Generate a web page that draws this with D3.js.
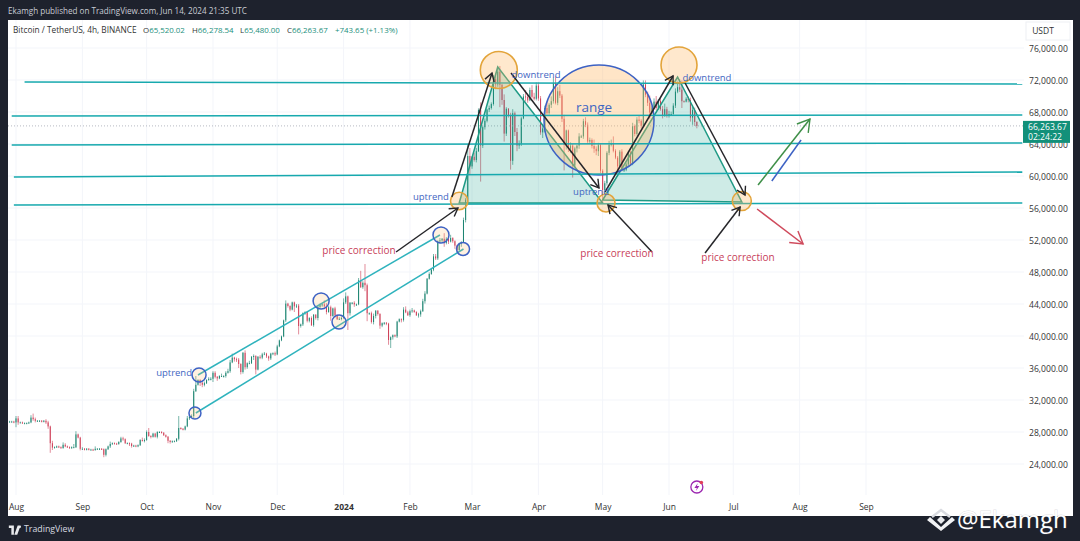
<!DOCTYPE html>
<html>
<head>
<meta charset="utf-8">
<script src="https://cdn.jsdelivr.net/npm/d3@7"></script>
<style>
  html, body { margin: 0; padding: 0; background: #1e222d; }
  svg { display: block; }
  text { font-family: "Open Sans", sans-serif; }
</style>
</head>
<body>
<svg id="chart" width="1080" height="541"></svg>
<script>
// daily candles, first one is 2023-07-28 (thousands of USDT)
const firstDay = "2023-07-28";
const closes = [
  29.3, 29.3, 29.3, 29.2,
  29.7, 29.2, 29.2, 29.1, 29.1, 29.1, 29.2, 29.8, 29.6, 29.4, 29.4, 29.4, 29.3, 29.4, 29.2, 28.7, 26.6, 26.05, 26.1, 26.2, 26.1, 26.0, 26.4, 26.2, 26.1, 26.0, 26.1, 26.1, 27.7, 27.3, 25.9,
  25.9, 25.8, 25.9, 25.8, 25.8, 25.75, 25.9, 25.9, 25.9, 25.85, 25.15, 25.85, 26.2, 26.5, 26.6, 26.55, 26.5, 26.75, 27.2, 27.1, 26.6, 26.6, 26.55, 26.25, 26.3, 26.2, 26.35, 27.0, 26.9, 27.0,
  28.0, 27.5, 27.4, 27.8, 27.4, 28.0, 28.0, 27.9, 27.6, 27.4, 26.9, 26.75, 26.85, 26.85, 27.15, 28.5, 28.4, 28.3, 28.7, 29.7, 29.9, 30.0, 33.1, 33.9, 34.5, 34.15, 33.9, 34.1, 34.5, 34.65, 34.65,
  35.4, 34.9, 34.7, 35.0, 35.0, 35.0, 35.4, 35.6, 36.7, 37.3, 37.1, 37.05, 36.5, 35.5, 37.9, 36.1, 36.6, 36.6, 37.4, 37.5, 35.8, 37.4, 37.3, 37.7, 37.8, 37.45, 37.2, 37.8, 37.85, 37.7,
  38.7, 39.45, 39.95, 41.95, 44.05, 43.75, 43.3, 44.2, 43.7, 43.8, 41.25, 41.45, 42.85, 43.0, 41.9, 42.25, 41.35, 42.65, 42.25, 43.65, 43.85, 43.95, 43.7, 43.0, 43.6, 42.5, 43.45, 42.6, 42.1, 42.15, 42.25,
  44.2, 44.95, 42.85, 44.15, 44.15, 43.95, 43.95, 46.95, 46.1, 46.65, 46.35, 42.85, 42.85, 41.75, 42.5, 43.15, 42.75, 41.3, 41.6, 41.65, 41.55, 39.5, 39.85, 40.1, 39.95, 41.8, 42.1, 42.0, 43.3, 42.95, 42.6,
  43.1, 43.2, 43.0, 42.6, 42.7, 43.1, 44.35, 45.3, 47.15, 47.75, 48.3, 49.95, 49.7, 51.85, 51.95, 52.15, 51.65, 52.15, 51.8, 52.25, 51.85, 51.3, 50.75, 51.55, 51.75, 54.5, 57.05, 62.5, 61.2,
  62.4, 62.0, 63.1, 68.25, 63.8, 66.1, 66.9, 68.3, 68.5, 69.0, 72.1, 71.45, 73.05, 71.4, 69.5, 65.3, 68.4, 67.6, 61.9, 67.85, 65.5, 63.8, 64.05, 67.2, 69.95, 69.9, 69.45, 70.75, 69.9, 69.65, 71.3,
  69.7, 65.45, 65.95, 68.5, 67.85, 68.9, 69.35, 71.6, 69.15, 70.6, 70.05, 67.15, 63.9, 65.7, 63.4, 63.8, 61.3, 63.45, 63.8, 64.95, 64.95, 66.85, 66.4, 64.3, 64.5, 63.75, 63.4, 63.1, 63.85, 60.65,
  58.25, 59.1, 62.9, 63.9, 64.05, 63.15, 62.3, 61.2, 63.05, 60.8, 60.8, 61.45, 62.95, 61.55, 66.25, 65.25, 67.05, 66.9, 66.25, 71.45, 70.15, 69.15, 67.95, 68.55, 69.3, 68.5, 69.4, 68.35, 67.6, 68.35, 67.5,
  67.75, 67.75, 68.8, 70.55, 71.1, 70.8, 69.35, 69.3, 69.65, 69.5, 67.3, 68.25, 66.75, 66.26
];
const upperWicks = [
  .1, .1, .1, .1,
  .3, .3, .1, .1, .1, .1, .1, .3, .5, .2, .1, .1, .1, .1, .2, .2, .1, .3, .1, .1, .1, .1, .3, .2, .1, .1, .1, .4, .4, .1, .1,
  .2, .1, .1, .1, .1, .1, .3, .1, .1, .1, .1, .1, .1, .3, .1, .1, .1, .1, .2, .2, .1, .1, .1, .1, .1, .1, .1, .1, .3, .2,
  .2, .5, .1, .1, .1, .1, .1, .1, .1, .1, .1, .1, .1, .1, .1, 1.5, .1, .1, .1, .3, .3, .2, .3, 1.1, .1, .1, .2, .2, .1, .2, .2,
  .2, .2, .1, .1, .3, .1, .2, .3, .3, .5, .1, .2, .2, .1, .1, .3, .1, .3, .1, .2, .1, .1, .2, .2, .2, .1, .1, .1, .1, .2,
  .2, .1, .1, .1, .4, .1, .1, .1, .1, .2, .2, .1, .1, .1, .1, .1, .2, .1, .1, .1, .2, .2, .5, .4, .2, .2, .1, .2, .1, .2, .2,
  .5, .5, .1, .1, .1, .2, .1, .3, 1.2, .2, 2.35, .2, .1, .2, .3, .1, .1, .1, .1, .1, .1, .1, .1, .1, .1, .1, .1, .1, .3, .4, .2,
  .2, .3, .1, .1, .2, .2, .3, .3, .1, .2, .1, .3, .3, .1, .3, .1, .7, .2, .2, .4, .1, .1, .1, .1, .1, .3, .2, 1.5, 1.0,
  .1, .5, .4, .2, .95, .2, .3, .1, .3, .2, .5, .7, .6, .7, .1, .7, .2, .1, .3, .5, .2, .5, .4, .2, .3, .8, .4, .3, .6, .5, .4,
  .4, .3, .5, .3, .8, .2, .6, .7, .9, .5, .8, .2, .5, .1, .1, .4, .2, .2, .1, .4, .2, .3, .5, .3, .3, .2, .8, .3, .3, .2,
  .2, .3, .2, .5, .5, .9, .2, .2, .2, .3, .3, .2, .2, .2, .4, .2, .3, .5, .2, .5, .5, .4, .9, .2, .4, .7, .2, .3, .4, .7, .3,
  .4, .3, .3, .4, .7, 1.0, 1.15, .1, .2, .3, .3, .6, .3, .1
];
const lowerWicks = [
  .1, .1, .1, .1,
  .6, .3, .1, .1, .1, .1, .1, .1, .2, .2, .1, .1, .1, .1, .2, .3, 1.2, .3, .1, .1, .1, .1, .1, .1, .1, .1, .1, .1, .1, .1, .2,
  .1, .1, .1, .1, .1, .1, .1, .1, .1, .1, .3, .2, .1, .2, .1, .1, .1, .1, .1, .2, .1, .1, .3, .2, .1, .1, .1, .1, .1, .2,
  .1, .1, .2, .1, .1, .2, .1, .1, .1, .1, .3, .2, .1, .1, .1, .2, .1, .1, .1, .1, .2, .1, .3, .1, .1, .4, .3, .2, .1, .1, .2,
  .4, .2, .3, .1, .1, .2, .2, .1, .2, .1, .3, .3, .5, .3, .2, .3, .2, .1, .1, .4, .6, .1, .2, .2, .1, .2, .3, .2, .2, .2,
  .1, .1, .1, .1, .2, .2, .2, .1, .7, .2, 1.05, .2, .2, .2, .2, .2, .1, .2, .2, .3, .2, .2, .1, .3, .1, .6, .1, .3, .1, .1, .2,
  .1, .2, 2.1, .3, .2, .3, .2, .1, .1, .2, .75, 1.0, .2, .2, .3, .3, .2, .4, .2, .2, .2, .6, 1.0, .3, .1, .2, .1, .3, .2, .1, .1,
  .2, .2, .1, .1, .3, .3, .1, .3, .1, .1, .1, .2, .2, .2, .3, .2, .5, .2, .3, .1, .2, .4, .1, .2, .4, .1, .3, .5, 1.0,
  .3, .2, .3, .1, 4.5, .3, .3, .2, .3, .2, .2, .6, .3, 2.8, .6, 1.0, .3, .3, 1.1, .5, .5, .7, .4, .3, .1, .6, .3, .1, .2, .2, .2,
  .3, .3, .7, .5, .2, .2, .4, .3, .2, .3, .3, .4, 3.2, .6, .4, .5, 1.5, .2, .5, .4, .2, .3, .3, .3, .3, .3, .5, .5, .6, .3,
  1.7, .5, .3, .3, .2, .2, .2, .5, .2, .2, .3, .2, .3, .3, .2, .3, .2, .3, .3, .1, .3, .4, .8, .2, .2, .3, .2, .2, .4, .2, .2,
  .2, .2, .1, .3, .2, .3, .85, .1, .1, .3, .5, .9, .5, .3
];

// axis content
const priceTicks = [24000, 28000, 32000, 36000, 40000, 44000, 48000, 52000, 56000, 60000, 64000, 68000, 72000, 76000];
const monthTicks = ["2023-08-01", "2023-09-01", "2023-10-01", "2023-11-01", "2023-12-01", "2024-01-01", "2024-02-01", "2024-03-01", "2024-04-01", "2024-05-01", "2024-06-01", "2024-07-01", "2024-08-01", "2024-09-01"];
const monthLabels = ["Aug", "Sep", "Oct", "Nov", "Dec", "2024", "Feb", "Mar", "Apr", "May", "Jun", "Jul", "Aug", "Sep"];
const lastPrice = 66263.67;
const lastPriceLabels = ["66,263.67", "02:24:22"];
const legendKeys = ["O", "H", "L", "C", ""];
const legendValues = ["65,520.02", "66,278.54", "65,480.00", "66,263.67", "+743.65 (+1.13%)"];

// drawings: [from date, from price, to date, to price]
const levelLines = [
  ["2023-08-05", 71.75, "2024-11-13", 71.5],
  ["2023-07-30", 67.5, "2024-11-13", 67.625],
  ["2023-07-30", 63.875, "2024-11-13", 64.125],
  ["2023-07-31", 59.875, "2024-11-13", 60.5],
  ["2023-07-31", 56.375, "2024-11-13", 56.625]
];
const channelLines = [
  ["2023-10-25", 35.125, "2024-02-15", 52.625],
  ["2023-10-24", 30.375, "2024-02-26", 50.875]
];
const blackArrows = [
  ["2024-02-20T14:00Z", 57.375, "2024-03-10T08:00Z", 72.875],
  ["2024-03-19T05:00Z", 72.875, "2024-04-29T07:00Z", 58.5],
  ["2024-05-02T03:00Z", 58, "2024-06-02T21:00Z", 72.5],
  ["2024-06-08T12:00Z", 71.625, "2024-07-06T12:00Z", 57.625],
  ["2024-01-25T12:00Z", 50.5, "2024-02-23T10:00Z", 56],
  ["2024-05-24T02:00Z", 50.5, "2024-05-03T12:00Z", 56.375],
  ["2024-06-17T20:00Z", 50.375, "2024-07-04T05:00Z", 56.125]
];
const greenArrow = ["2024-07-12T14:00Z", 58.875, "2024-08-05T20:00Z", 67.125];
const blueLine = ["2024-07-19", 59.375, "2024-08-01T16:00Z", 64.5];
const redArrow = ["2024-07-12T03:00Z", 55.875, "2024-08-02T15:00Z", 51.5];

const triangles = [
  [["2024-02-24", 56.625], ["2024-03-13", 73.625], ["2024-05-01", 56.625]],
  [["2024-05-01", 57], ["2024-06-05", 72.375], ["2024-07-05", 56.75]]
];
// [date, price, radius]
const orangeCircles = [
  ["2024-03-13T12:00Z", 73.25, 18.5],
  ["2024-06-05T16:00Z", 73.875, 18],
  ["2024-02-24", 56.875, 8.7],
  ["2024-05-02T14:00Z", 56.625, 9],
  ["2024-07-05", 56.875, 9.5]
];
const blueCircles = [
  ["2023-10-25T12:00Z", 35.125, 7],
  ["2023-10-23T14:00Z", 30.375, 6],
  ["2023-12-21T12:00Z", 44.375, 8],
  ["2023-12-29T21:00Z", 41.75, 7],
  ["2024-02-15T12:00Z", 52.625, 8],
  ["2024-02-25T19:00Z", 50.875, 6.5]
];
const rangeCircle = ["2024-04-29T07:00Z", 67, 55];

const blueLabels = [
  ["uptrend", "2023-10-13T20:00Z", 35.375],
  ["uptrend", "2024-02-10T19:00Z", 57.375],
  ["uptrend", "2024-04-25T14:00Z", 58],
  ["downtrend", "2024-03-30T21:00Z", 72.625],
  ["downtrend", "2024-06-18T17:00Z", 72.25]
];
const redLabels = [
  ["price correction", "2024-01-08T05:00Z", 50.625],
  ["price correction", "2024-05-07T17:00Z", 50.25],
  ["price correction", "2024-07-03T05:00Z", 49.75]
];

const white = { left: 8, top: 20, right: 1073, bottom: 516 };
const plot = { right: 1024, bottom: 495 };

const svg = d3.select("#chart");
const x = d3.scaleUtc().domain([new Date("2023-08-01"), new Date("2024-09-01")]).range([16, 866]);
const y = d3.scaleLinear().domain([24000, 76000]).range([464, 48]);
const yK = k => y(k * 1000);
const xD = s => x(new Date(s));

svg.append("rect").attr("x", white.left).attr("y", white.top)
  .attr("width", white.right - white.left).attr("height", white.bottom - white.top).attr("fill", "#fff");

const defs = svg.append("defs");
defs.append("clipPath").attr("id", "plot-clip").append("rect")
  .attr("x", white.left).attr("y", white.top)
  .attr("width", plot.right - white.left).attr("height", plot.bottom - white.top);

function addHead(id, color, size) {
  defs.append("marker").attr("id", id).attr("viewBox", "-16 -10 18 20")
    .attr("refX", 0).attr("refY", 0).attr("markerUnits", "userSpaceOnUse")
    .attr("markerWidth", 18).attr("markerHeight", 20).attr("orient", "auto")
    .append("path").attr("d", `M${-size},${-size * 0.6}L0,0L${-size},${size * 0.6}`).attr("fill", "none")
    .attr("stroke", color).attr("stroke-width", 1.4);
}
addHead("head-black", "#26262a", 8);
addHead("head-green", "#3f8f48", 12);
addHead("head-red", "#cf4a5c", 12);

// grid
const gridG = svg.append("g").attr("clip-path", "url(#plot-clip)");
gridG.selectAll("line.h").data(priceTicks).join("line").attr("class", "h")
  .attr("x1", white.left).attr("x2", plot.right).attr("y1", d => y(d)).attr("y2", d => y(d))
  .attr("stroke", "#f3f5fa");
gridG.selectAll("line.v").data(monthTicks).join("line").attr("class", "v")
  .attr("x1", d => xD(d)).attr("x2", d => xD(d)).attr("y1", white.top).attr("y2", plot.bottom)
  .attr("stroke", "#f3f5fa");

// candles
const candles = closes.map((c, i) => {
  const open = i === 0 ? c : closes[i - 1];
  return {
    date: d3.utcDay.offset(new Date(firstDay), i),
    open, close: c,
    high: Math.max(open, c) + upperWicks[i],
    low: Math.min(open, c) - lowerWicks[i]
  };
});
const candleColor = d => d.close >= d.open ? "#1c8471" : "#cf4058";
const candleG = svg.append("g").attr("clip-path", "url(#plot-clip)");
candleG.selectAll("line").data(candles).join("line")
  .attr("x1", d => x(d.date)).attr("x2", d => x(d.date))
  .attr("y1", d => yK(d.high)).attr("y2", d => yK(d.low))
  .attr("stroke", candleColor).attr("stroke-width", 0.6);
candleG.selectAll("rect").data(candles).join("rect")
  .attr("x", d => x(d.date) - 0.5).attr("width", 1)
  .attr("y", d => yK(Math.max(d.open, d.close)))
  .attr("height", d => Math.max(1, Math.abs(yK(d.open) - yK(d.close))))
  .attr("fill", candleColor);

// last price dotted line
svg.append("line").attr("x1", white.left).attr("x2", plot.right)
  .attr("y1", y(lastPrice)).attr("y2", y(lastPrice))
  .attr("stroke", "#a4a8b3").attr("stroke-width", 0.8).attr("stroke-dasharray", "1 2");

// drawings
const drawG = svg.append("g").attr("clip-path", "url(#plot-clip)");
function segment(seg, color, width, head) {
  const l = drawG.append("line")
    .attr("x1", xD(seg[0])).attr("y1", yK(seg[1]))
    .attr("x2", xD(seg[2])).attr("y2", yK(seg[3]))
    .attr("stroke", color).attr("stroke-width", width);
  if (head) l.attr("marker-end", `url(#${head})`);
}

drawG.selectAll("path.tri").data(triangles).join("path").attr("class", "tri")
  .attr("d", d => d3.line().x(p => xD(p[0])).y(p => yK(p[1]))(d) + "Z")
  .attr("fill", "rgba(8,153,129,0.2)").attr("stroke", "#1f9a85").attr("stroke-width", 1.5);

function circles(data, cls, fill, stroke, width) {
  drawG.selectAll("circle." + cls).data(data).join("circle").attr("class", cls)
    .attr("cx", d => xD(d[0])).attr("cy", d => yK(d[1])).attr("r", d => d[2])
    .attr("fill", fill).attr("stroke", stroke).attr("stroke-width", width);
}
circles([rangeCircle], "range", "rgba(255,183,100,0.36)", "#3d62c4", 1.5);
levelLines.forEach(s => segment(s, "#17a9ae", 1.5));
channelLines.forEach(s => segment(s, "#2fb3bd", 1.5));
circles(orangeCircles, "orange", "rgba(255,183,100,0.32)", "#e3a43a", 1.6);
circles(blueCircles, "blue", "rgba(255,183,100,0.2)", "#3d62c4", 1.5);
blackArrows.forEach(s => segment(s, "#26262a", 1.5, "head-black"));
segment(greenArrow, "#3f8f48", 1.5, "head-green");
segment(blueLine, "#3d62c4", 1.5);
segment(redArrow, "#cf4a5c", 1.5, "head-red");

function labels(data, color, size) {
  drawG.append("g").selectAll("text").data(data).join("text")
    .attr("x", d => xD(d[1])).attr("y", d => yK(d[2]))
    .attr("text-anchor", "middle").attr("dominant-baseline", "middle")
    .attr("font-size", size).attr("fill", color).text(d => d[0]);
}
labels(blueLabels, "#3f66c2", 9.5);
labels(redLabels, "#c8405a", 10);
labels([["range", "2024-04-27", 68.4]], "#3f66c2", 13.5);

// news marker under the candles
const flash = drawG.append("g").attr("transform", `translate(${xD("2024-06-14")},${y(21125)})`);
flash.append("circle").attr("r", 6).attr("fill", "#fff").attr("stroke", "#9c27b0").attr("stroke-width", 1.3);
flash.append("path").attr("d", "M1,-4L-2.5,1H0L-1,4L2.5,-1H0Z").attr("fill", "#9c27b0");
flash.append("circle").attr("cx", 4.5).attr("cy", -4.5).attr("r", 1.8).attr("fill", "#e0405a");

// axes
const yAxis = d3.axisRight(y).tickValues(priceTicks).tickSize(0).tickPadding(0)
  .tickFormat(d3.format(",.2f"));
svg.append("g").attr("transform", "translate(1029,0.6)").call(yAxis)
  .call(g => g.select(".domain").remove())
  .selectAll("text").attr("font-size", 8.6).attr("fill", "#333").style("font-family", '"Open Sans", sans-serif');

const xAxis = d3.axisBottom(x).tickValues(monthTicks.map(d => new Date(d))).tickSize(0).tickPadding(0)
  .tickFormat((d, i) => monthLabels[i]);
svg.append("g").attr("transform", "translate(0,503.5)").call(xAxis)
  .call(g => g.select(".domain").remove())
  .selectAll("text").attr("font-size", 8.5).attr("fill", "#333")
  .style("font-family", '"Open Sans", sans-serif')
  .attr("font-weight", (d, i) => monthLabels[i] === "2024" ? 700 : 400);

svg.append("rect").attr("x", 1026).attr("y", 22).attr("width", 44).attr("height", 18)
  .attr("fill", "none").attr("stroke", "#eef0f4");
svg.append("text").attr("x", 1043).attr("y", 34).attr("text-anchor", "middle")
  .attr("font-size", 8.5).attr("fill", "#333").text("USDT");

// last price tag
svg.append("rect").attr("x", 1023).attr("y", y(lastPrice) - 5).attr("width", 47).attr("height", 22).attr("fill", "#12907a");
svg.selectAll("text.tag").data(lastPriceLabels).join("text").attr("class", "tag")
  .attr("x", 1028).attr("y", (d, i) => y(lastPrice) + 4 + i * 10)
  .attr("font-size", 8.6).attr("fill", "#fff").text(d => d);

// header and legend
svg.append("text").attr("x", 8).attr("y", 14).attr("font-size", 8.1).attr("fill", "#c9ccd4")
  .text("Ekamgh published on TradingView.com, Jun 14, 2024 21:35 UTC");
svg.append("text").attr("x", 13).attr("y", 33).attr("font-size", 8.3).attr("fill", "#333")
  .text("Bitcoin / TetherUS, 4h, BINANCE");
const legendX = [143, 192, 240, 287, 335];
legendValues.forEach((v, i) => {
  const t = svg.append("text").attr("x", legendX[i]).attr("y", 33).attr("font-size", 7.9);
  t.append("tspan").attr("fill", "#333").text(legendKeys[i]);
  t.append("tspan").attr("fill", "#1b8f7c").text(v);
});

// footer
svg.append("path").attr("transform", "translate(8,523) scale(0.42)")
  .attr("d", "M14 6H2v6h6v16h6V6Zm8 22 8-22h-7l-8 22h7Zm6-16a3 3 0 1 0 0-6 3 3 0 0 0 0 6Z")
  .attr("fill", "#e8e9ec");
svg.append("text").attr("x", 24).attr("y", 532).attr("font-size", 8.8).attr("fill", "#d8dae0").text("TradingView");

const mark = svg.append("g").attr("transform", "translate(941,520)").attr("fill", "none");
mark.append("path").attr("d", "M-9,-3L0,-10L9,-3").attr("stroke", "#d9dbe0").attr("stroke-width", 2.4);
mark.append("path").attr("d", "M-4,0L0,-4L4,0L0,4Z").attr("fill", "#e8e9ec");
mark.append("path").attr("d", "M-14,0L-11,-3L0,7L11,-3L14,0L0,11Z").attr("fill", "#f2f3f5");
svg.append("text").attr("x", 957).attr("y", 528).attr("font-size", 24).attr("fill", "#fff")
  .style("paint-order", "stroke").attr("stroke", "rgba(120,120,130,0.25)").attr("stroke-width", 1).text("@Ekamgh");
</script>
</body>
</html>
